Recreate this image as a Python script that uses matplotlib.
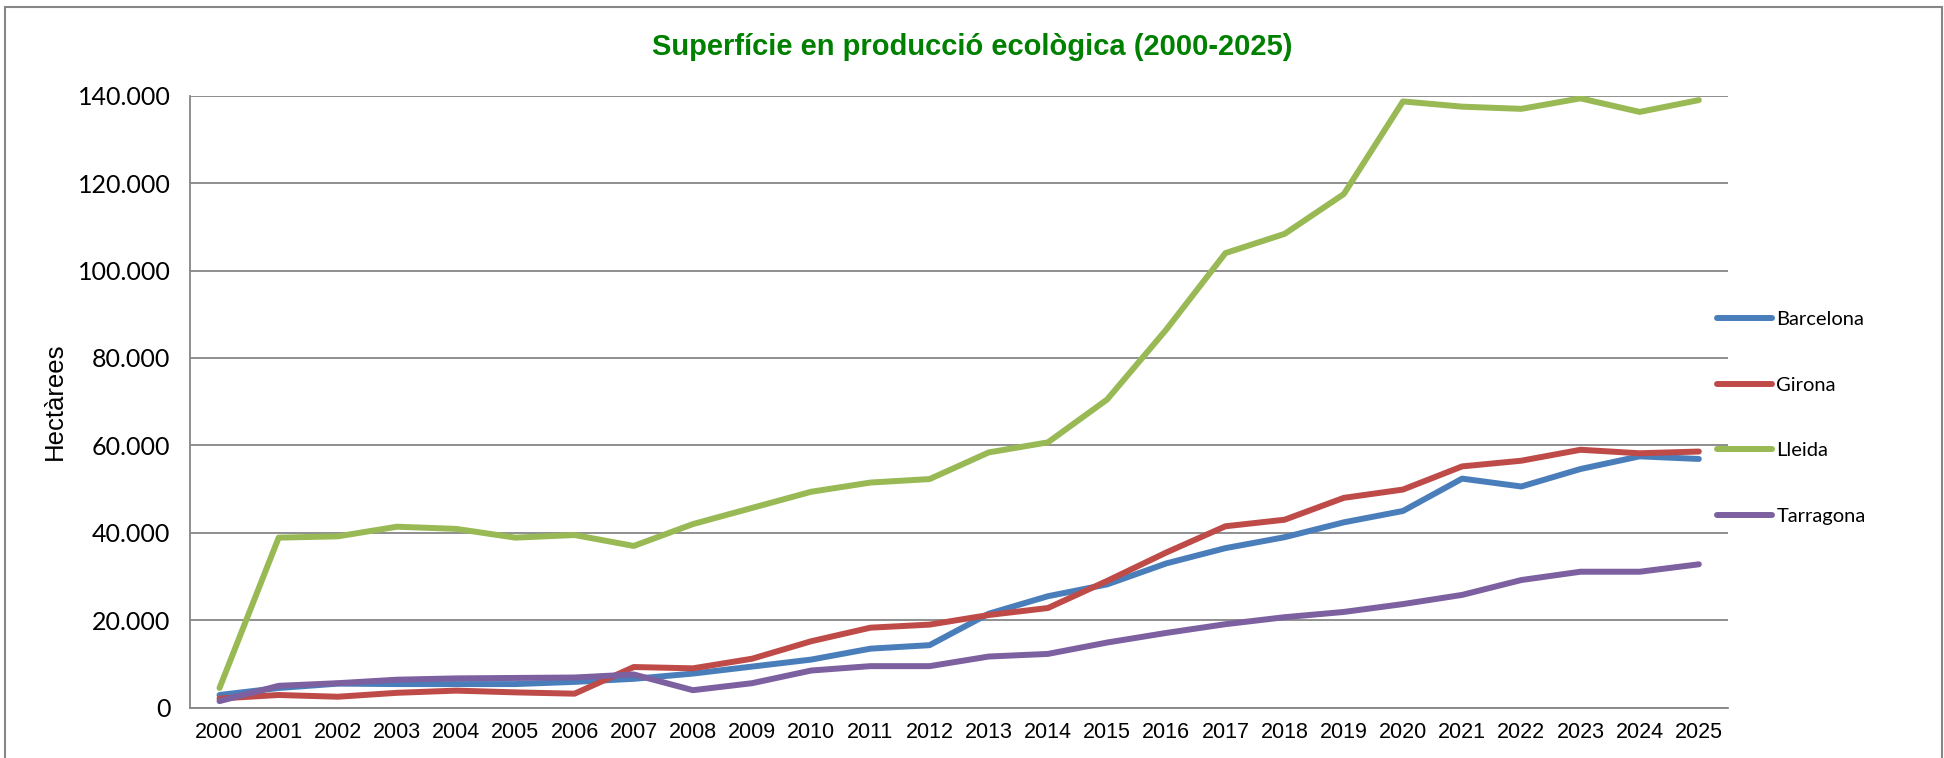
import matplotlib
matplotlib.use('Agg')
import matplotlib.pyplot as plt
from matplotlib.patches import Rectangle

years = [str(y) for y in range(2000, 2026)]
barcelona = [2900, 4500, 5500, 5400, 5400, 5400, 5900, 6600, 7800, 9400, 11000, 13500, 14300,
             21500, 25500, 28200, 33000, 36500, 39000, 42400, 45000, 52400, 50600, 54600, 57500, 56900]
girona = [2100, 2900, 2500, 3400, 3900, 3500, 3200, 9300, 9000, 11200, 15200, 18300, 19000,
          21200, 22800, 29000, 35500, 41500, 43000, 48000, 49900, 55200, 56500, 59000, 58200, 58600]
lleida = [4500, 38900, 39200, 41400, 40900, 38900, 39500, 37000, 42000, 45700, 49400, 51500, 52300,
          58400, 60700, 70500, 86500, 104000, 108400, 117500, 138700, 137500, 137000, 139400, 136300, 139000]
tarragona = [1500, 5000, 5600, 6400, 6700, 6800, 6900, 7600, 4000, 5600, 8500, 9500, 9500,
             11700, 12300, 14900, 17100, 19100, 20700, 21900, 23700, 25800, 29200, 31100, 31100, 32800]

series = [('Barcelona', barcelona, '#4A7EBB'),
          ('Girona', girona, '#BE4B48'),
          ('Lleida', lleida, '#98B954'),
          ('Tarragona', tarragona, '#7D60A0')]

fig = plt.figure(figsize=(19.44, 7.58), dpi=100)
ax = fig.add_axes([0.0977, 0.0664, 0.8891 - 0.0977, 0.8737 - 0.0664])

x = list(range(len(years)))
for name, vals, col in series:
    ax.plot(x, vals, color=col, lw=4.3, label=name, solid_capstyle='round', solid_joinstyle='round')

ax.set_xlim(-0.5, len(years) - 0.5)
ax.set_ylim(0, 140000)
ax.set_yticks(range(0, 140001, 20000))
ax.set_yticklabels(['0' if v == 0 else f'{v // 1000}.000' for v in range(0, 140001, 20000)],
                   family='Lato', fontsize=18)
ax.set_xticks(x)
ax.set_xticklabels(years, family='Liberation Sans', fontsize=15.5)
ax.tick_params(length=0, pad=10)
ax.tick_params(axis='y', pad=14)
ax.grid(axis='y', color='#868686', lw=1.3)
ax.set_axisbelow(True)
for s in ['top', 'right']:
    ax.spines[s].set_visible(False)
for s in ['left', 'bottom']:
    ax.spines[s].set_color('#868686')
    ax.spines[s].set_linewidth(1.3)

ax.set_ylabel('Hectàrees', family='Liberation Sans', fontsize=18.5, labelpad=8)

fig.text(0.5, 0.938, 'Superfície en producció ecològica (2000-2025)', ha='center', va='center',
         family='Liberation Sans', fontsize=21, fontweight='bold', color='#008000')

leg = ax.legend(loc='center left', bbox_to_anchor=(0.8832, 0.4485), bbox_transform=fig.transFigure,
                frameon=False, prop={'family': 'Lato', 'size': 14.5}, handlelength=2.75,
                handletextpad=0.2, labelspacing=2.4, borderpad=0, borderaxespad=0)
for h in leg.get_lines():
    h.set_solid_capstyle('round')

fig.patches.append(Rectangle((5 / 1944, -0.02), (1942 - 5) / 1944, 1 - 7 / 758 + 0.02,
                             transform=fig.transFigure, fill=False, edgecolor='#868686', lw=1.5))

fig.savefig('out.png', dpi=100)
